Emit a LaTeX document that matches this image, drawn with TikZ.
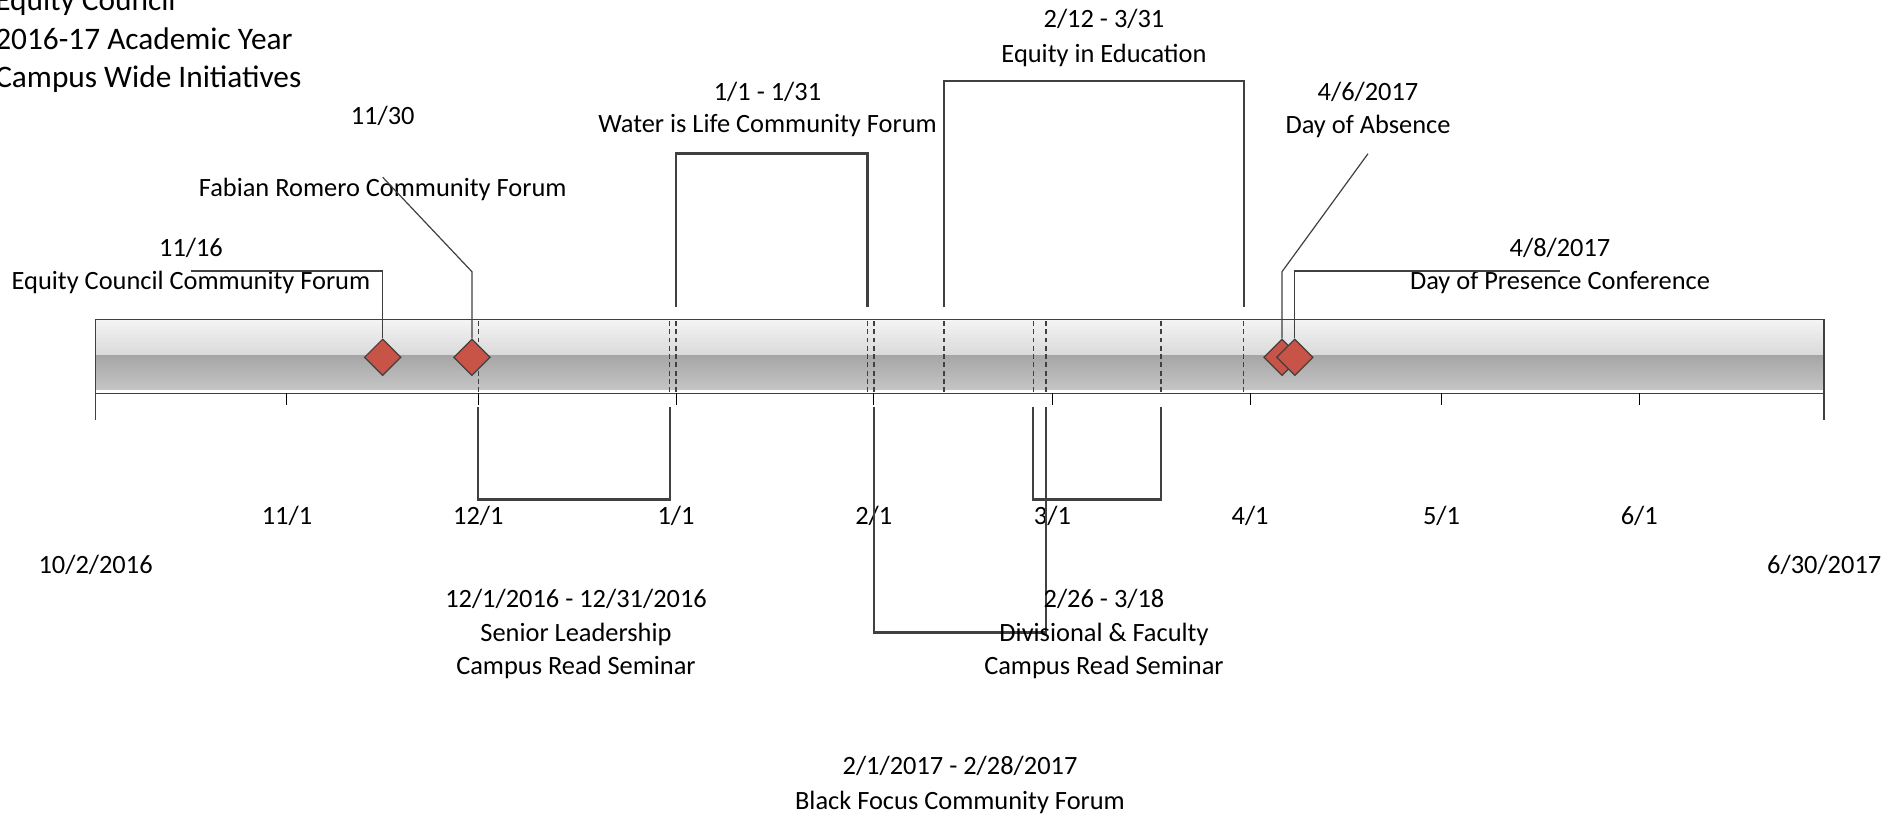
\documentclass[tikz,border=0pt]{standalone}
\usepackage{fontspec}
\setmainfont{Carlito}
\usepackage{tikz}
\usetikzlibrary{shapes.geometric,calc}
\definecolor{LineGray}{RGB}{64,64,64}
\definecolor{MileRed}{RGB}{200,84,72}
\definecolor{BarTop}{RGB}{244,244,244}
\definecolor{BarMid}{RGB}{217,217,217}
\definecolor{BarLow}{RGB}{166,166,166}
\definecolor{BarBot}{RGB}{198,198,198}

\begin{document}
\begin{tikzpicture}[x=0.75pt,y=-0.75pt,
  declare function={dx(\d)=95.6+6.3786*\d;},
  lbl/.style={font=\fontsize{19.8}{24}\selectfont,inner sep=0pt,text height=14pt,text depth=4pt},
  ttl/.style={font=\fontsize{23.5}{28}\selectfont,inner sep=0pt,anchor=base west},
  span/.style={LineGray,line width=1.75pt},
  leader/.style={LineGray,line width=0.9pt},
  daymark/.style={LineGray,line width=1.1pt,dash pattern=on 3.7pt off 2.5pt},
  tickmark/.style={black,line width=0.8pt},
  milestone/.style={diamond,draw=LineGray,fill=MileRed,line width=0.9pt,inner sep=0pt,minimum width=27.5pt,minimum height=27.5pt}]
  \useasboundingbox (0,0) rectangle (1898,816);

  % title
  \foreach \ln [count=\i] in {Equity Council,2016-17 Academic Year,Campus Wide Initiatives}
    \node[ttl] (title\i) at (-5,{11+38.3*(\i-1)}) {\ln};

  % bar
  \shade[top color=BarTop,bottom color=BarMid] (95.6,319.6) rectangle (1824.2,355.7);
  \shade[top color=BarLow,bottom color=BarBot] (95.6,355.7) rectangle (1824.2,391);
  \draw[white,line width=0.8pt] (95.6,391) -- (1824.2,391);
  \draw[LineGray,line width=1.1pt] (95.6,319.6) rectangle (1824.2,393.4);

  % axis
  \foreach \d/\m in {30/11,60/12,91/1,122/2,150/3,181/4,211/5,242/6} {
    \draw[tickmark] ({dx(\d)},393.4) -- ({dx(\d)},404.5);
    \node[lbl] (tick\m) at ({dx(\d)},517.5) {\m/1};
  }
  \draw[LineGray,line width=1.1pt] (95.6,393.4) -- (95.6,420);
  \draw[LineGray,line width=1.1pt] (1824.2,393.4) -- (1824.2,420);
  \node[lbl] (start) at (95.6,566.5) {10/2/2016};
  \node[lbl] (finish) at (1824.2,566.5) {6/30/2017};

  % interval ends inside the bar
  \foreach \d in {60,90,91,121,122,133,147,149,167,180}
    \draw[daymark] ({dx(\d)},321) -- ({dx(\d)},392);

  % intervals
  \foreach \a/\b/\ytop in {91/121/153.5,133/180/81}
    \draw[span] ({dx(\a)},307.5) |- ({dx(\b)},\ytop) -- ({dx(\b)},307.5);
  \foreach \a/\b/\ybot in {60/90/499.5,122/149/632.5,147/167/499.5}
    \draw[span] ({dx(\a)},406.5) |- ({dx(\b)},\ybot) -- ({dx(\b)},406.5);

  \node[lbl] (waterdate) at (767.5,93.5) {1/1 - 1/31};
  \node[lbl] (water) at (767.5,126.2) {Water is Life Community Forum};
  \node[lbl] (eiedate) at (1104,21) {2/12 - 3/31};
  \node[lbl] (eie) at (1104,56) {Equity in Education};
  \node[lbl] (seniordate) at (576,600.5) {12/1/2016 - 12/31/2016};
  \node[lbl] (senior) at (576,635) {Senior Leadership};
  \node[lbl] (seniorread) at (576,667.5) {Campus Read Seminar};
  \node[lbl] (divdate) at (1104,600.5) {2/26 - 3/18};
  \node[lbl] (div) at (1104,635) {Divisional \& Faculty};
  \node[lbl] (divread) at (1104,667.5) {Campus Read Seminar};
  \node[lbl] (bfcfdate) at (960,768.2) {2/1/2017 - 2/28/2017};
  \node[lbl] (bfcf) at (960,803) {Black Focus Community Forum};

  % milestones
  \node[lbl] (eccfdate) at (191,249.8) {11/16};
  \node[lbl] (eccf) at (191,283.3) {Equity Council Community Forum};
  \node[lbl] (frcfdate) at (382.7,118.2) {11/30};
  \node[lbl] (frcf) at (382.7,189.5) {Fabian Romero Community Forum};
  \node[lbl] (doadate) at (1368,93.8) {4/6/2017};
  \node[lbl] (doa) at (1368,126.5) {Day of Absence};
  \node[lbl] (dopdate) at (1560,249.8) {4/8/2017};
  \node[lbl] (dop) at (1560,283.3) {Day of Presence Conference};
  \coordinate (knee) at (0,271.7);
  \coordinate (doatip) at (1368,153.7);

  \node[milestone] (m1116) at ({dx(45)},357.3) {};
  \node[milestone] (m1130) at ({dx(59)},357.3) {};
  \node[milestone] (m0406) at ({dx(186)},357.3) {};
  \node[milestone] (m0408) at ({dx(188)},357.3) {};

  \draw[leader] (m1116.north) |- (eccf.north);
  \draw[leader] (m1130.north) -- (m1130.north |- knee) -- (frcf.north);
  \draw[leader] (m0406.north) -- (m0406.north |- knee) -- (doatip);
  \draw[leader] (m0408.north) |- (dop.north);
\end{tikzpicture}
\end{document}
